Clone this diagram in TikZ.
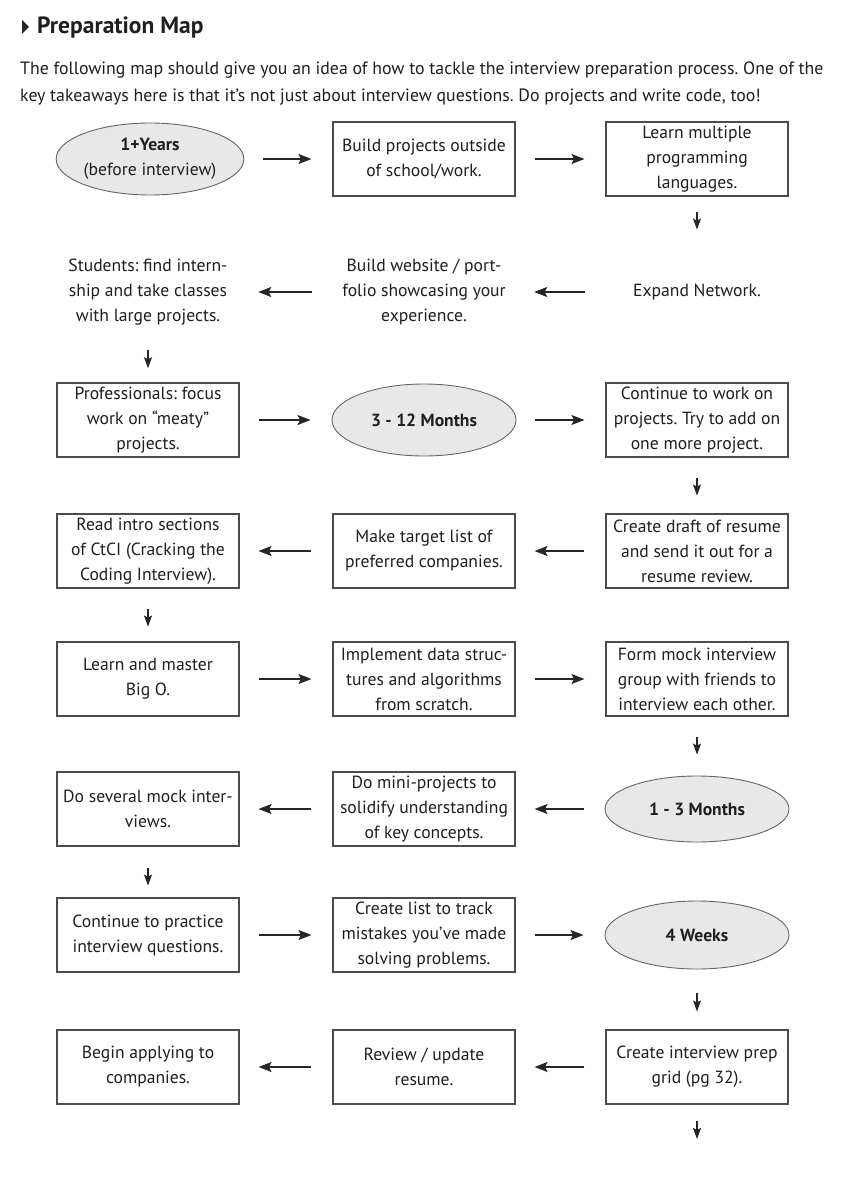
\documentclass[tikz,border=0pt]{standalone}
\usepackage{fontspec}
\setmainfont{PT Sans}
\usetikzlibrary{shapes.geometric,arrows.meta}
\begin{document}
\frenchspacing
\begin{tikzpicture}[x=1pt,y=-1pt,
  every node/.style={font=\fontsize{17.6}{25}\selectfont, align=center, text=black!88},
  box/.style={draw=black!70, line width=1.1pt, minimum width=182pt, minimum height=74pt, inner sep=0pt},
  plain/.style={minimum width=182pt, minimum height=74pt, inner sep=0pt},
  oval/.style={ellipse, draw=black!60, line width=0.9pt, fill=black!9, minimum width=184pt, minimum height=72pt, inner sep=0pt},
  harr/.style={line width=1.5pt, draw=black!85, -{Stealth[length=13pt,width=10pt,inset=2.5pt]}, shorten <=19pt, shorten >=21pt},
  harrl/.style={line width=1.5pt, draw=black!85, -{Stealth[length=13pt,width=10pt,inset=2.5pt]}, shorten <=21pt, shorten >=19pt},
  varr/.style={line width=1.1pt, draw=black!85, -{Stealth[length=11pt,width=8pt,inset=2pt]}}
]
\path[use as bounding box, fill=white] (0,0) rectangle (866,1185);
% header
\fill[black!85] (22,20) -- (29,27) -- (22,34) -- cycle;
\node[anchor=west, font=\fontsize{23.5}{25}\selectfont\bfseries, inner sep=0pt] (title) at (37,27) {Preparation Map};
\node[anchor=west, align=left, inner sep=0pt, font=\fontsize{17.8}{27}\selectfont] (intro) at (20,84)
  {The following map should give you an idea of how to tackle the interview preparation process. One of the\\
   key takeaways here is that it's not just about interview questions. Do projects and write code, too!};
% row 1
\node[oval] (e11) at (150,159) {\textbf{1+Years}\\(before interview)};
\node[box] (b12) at (424,159) {Build projects outside\\of school/work.};
\node[box] (b13) at (697,159) {Learn multiple\\programming\\languages.};
% row 2
\node[plain] (t23) at (697,292) {Expand Network.};
\node[plain] (t22) at (424,292) {Build website / port-\\folio showcasing your\\experience.};
\node[plain] (t21) at (148,292) {Students: find intern-\\ship and take classes\\with large projects.};
% row 3
\node[box] (b31) at (148,420) {Professionals: focus\\work on ``meaty''\\projects.};
\node[oval] (e32) at (424,420) {\textbf{3 - 12 Months}};
\node[box] (b33) at (697,420) {Continue to work on\\projects. Try to add on\\one more project.};
% row 4
\node[box] (b43) at (697,551) {Create draft of resume\\and send it out for a\\resume review.};
\node[box] (b42) at (424,551) {Make target list of\\preferred companies.};
\node[box] (b41) at (148,551) {Read intro sections\\of CtCI (Cracking the\\Coding Interview).};
% row 5
\node[box] (b51) at (148,679) {Learn and master\\Big O.};
\node[box] (b52) at (424,679) {Implement data struc-\\tures and algorithms\\from scratch.};
\node[box] (b53) at (697,679) {Form mock interview\\group with friends to\\interview each other.};
% row 6
\node[oval, minimum height=66pt] (e63) at (697,809) {\textbf{1 - 3 Months}};
\node[box] (b62) at (424,809) {Do mini-projects to\\solidify understanding\\of key concepts.};
\node[box] (b61) at (148,809) {Do several mock inter-\\views.};
% row 7
\node[box] (b71) at (148,935) {Continue to practice\\interview questions.};
\node[box] (b72) at (424,935) {Create list to track\\mistakes you've made\\solving problems.};
\node[oval, minimum height=68pt] (e73) at (697,935) {\textbf{4 Weeks}};
% row 8
\node[box] (b83) at (697,1067) {Create interview prep\\grid (pg 32).};
\node[box] (b82) at (424,1067) {Review / update\\resume.};
\node[box] (b81) at (148,1067) {Begin applying to\\companies.};
\coordinate (end) at (697,1139);
% horizontal arrows
\draw[harr] (e11.east) -- (b12.west);
\draw[harr] (b12.east) -- (b13.west);
\draw[harrl] (t23.west) -- (t22.east);
\draw[harrl] (t22.west) -- (t21.east);
\draw[harr] (b31.east) -- (e32.west);
\draw[harr] (e32.east) -- (b33.west);
\draw[harrl] (b43.west) -- (b42.east);
\draw[harrl] (b42.west) -- (b41.east);
\draw[harr] (b51.east) -- (b52.west);
\draw[harr] (b52.east) -- (b53.west);
\draw[harrl] (e63.west) -- (b62.east);
\draw[harrl] (b62.west) -- (b61.east);
\draw[harr] (b71.east) -- (b72.west);
\draw[harr] (b72.east) -- (e73.west);
\draw[harrl] (b83.west) -- (b82.east);
\draw[harrl] (b82.west) -- (b81.east);
% vertical arrows
\draw[varr] (b13.south) ++(0,15) -- ++(0,18);
\draw[varr] (t21.south) ++(0,21) -- ++(0,18);
\draw[varr] (b33.south) ++(0,20) -- ++(0,18);
\draw[varr] (b41.south) ++(0,20) -- ++(0,18);
\draw[varr] (b53.south) ++(0,20) -- ++(0,18);
\draw[varr] (b61.south) ++(0,21) -- ++(0,18);
\draw[varr] (e73.south) ++(0,24) -- ++(0,18);
\draw[varr] (b83.south) ++(0,16) -- (end);
\end{tikzpicture}
\end{document}
